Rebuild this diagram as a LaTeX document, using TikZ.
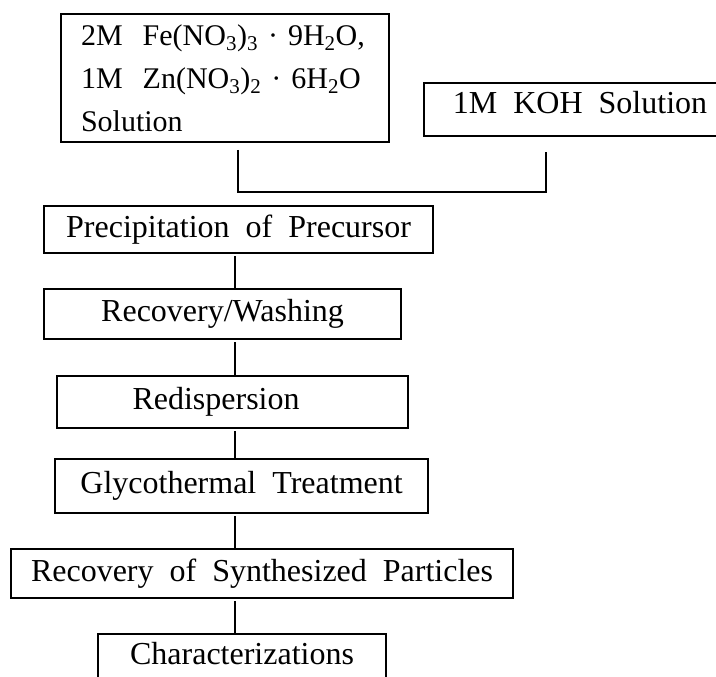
\documentclass[tikz,border=0pt]{standalone}
\usepackage{fontspec}
\setmainfont{Liberation Serif}
\usepackage{tikz}
\usetikzlibrary{positioning}

\begin{document}
\begin{tikzpicture}[
  x=1pt, y=-1pt,
  font=\fontsize{32}{43}\selectfont,
  stepbox/.style={draw, line width=2.1pt, inner sep=0pt, anchor=north west},
  link/.style={line width=1.6pt}
]
  \useasboundingbox (0,0) rectangle (716,677);

  % starting solutions
  \node[stepbox, minimum width=328pt, minimum height=128pt, align=left, text width=288pt,
        font=\fontsize{30}{43}\selectfont] (fe) at (60,13) {%
    \mbox{2M\ \ Fe(NO\textsubscript{3})\textsubscript{3} · 9H\textsubscript{2}O,}\\
    \mbox{1M\ \ Zn(NO\textsubscript{3})\textsubscript{2} · 6H\textsubscript{2}O}\\
    Solution};
  \node[stepbox, minimum width=312pt, minimum height=53pt, text depth=14pt] (koh) at (423,82) {1M\ \ KOH\ \ Solution};

  % merging lines
  \coordinate (feleg) at (238,150);
  \coordinate (kohleg) at (546,152);
  \coordinate (join) at (546,192);
  \draw[link] (feleg) |- (join) -- (kohleg);

  % process steps
  \node[stepbox, minimum width=389pt, minimum height=47pt] (precip) at (43,205) {Precipitation\ \ of\ \ Precursor};
  \node[stepbox, minimum width=357pt, minimum height=50pt] (recwash) at (43,288) {Recovery/Washing};
  \node[stepbox, minimum width=351pt, minimum height=52pt] (redisp) at (56,375) {Redispersion\kern33pt};
  \node[stepbox, minimum width=373pt, minimum height=54pt] (glyco) at (54,458) {Glycothermal\ \ Treatment};
  \node[stepbox, minimum width=502pt, minimum height=49pt] (recsyn) at (10,548) {Recovery\ \ of\ \ Synthesized\ \ Particles};
  \node[stepbox, minimum width=288pt, minimum height=50pt, text depth=12pt] (charac) at (97,633) {Characterizations};

  % vertical links
  \coordinate (spine) at (235,0);
  \foreach \a/\b in {precip/recwash, recwash/redisp, redisp/glyco, glyco/recsyn, recsyn/charac}
    \draw[link, shorten <=2pt] (\a.south -| spine) -- (\b.north -| spine);
\end{tikzpicture}
\end{document}
